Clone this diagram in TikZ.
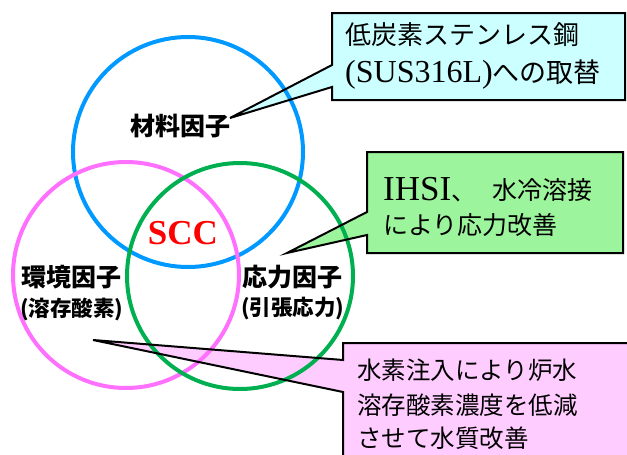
\documentclass[tikz,border=0pt]{standalone}
\usepackage{fontspec}
\setmainfont{Liberation Serif}
\newfontfamily\jp{Noto Sans CJK JP}
\definecolor{cblue}{HTML}{0099FF}
\definecolor{cpink}{HTML}{FF70FF}
\definecolor{cgreen}{HTML}{00B050}
\definecolor{fcyan}{HTML}{CCFFFF}
\definecolor{fgreen}{HTML}{9CF49C}
\definecolor{fpink}{HTML}{FFCCFF}
\tikzset{
  ring/.style={line width=4pt},
  calloutline/.style={draw=black,line width=2pt,line join=miter},
  lbl/.style={inner sep=0pt,anchor=west,font=\jp\bfseries\fontsize{25}{25}\selectfont},
  sublbl/.style={inner sep=0pt,anchor=west,font=\jp\bfseries\fontsize{21.5}{21.5}\selectfont},
  ctext/.style={inner sep=0pt,anchor=west,font=\jp\fontsize{25}{25}\selectfont},
}
\begin{document}
\begin{tikzpicture}[x=1pt,y=-1pt]
\useasboundingbox (0,0) rectangle (627,455);
% callout geometry
\coordinate (ct) at (230,118);
\coordinate (c1) at (332,13);
\coordinate (c2) at (625,100);
\coordinate (gt) at (287,253);
\coordinate (g1) at (367,152);
\coordinate (g2) at (623,253);
\coordinate (pt) at (93,340);
\coordinate (p1) at (343,343);
\coordinate (p2) at (640,470);
% fills
\fill[fcyan] (c1) -- (625,13) -- (c2) -- (332,100) -- (332,87) -- (ct) -- (332,65) -- cycle;
\fill[fgreen] (g1) -- (623,152) -- (g2) -- (367,253) -- (367,235) -- (gt) -- (367,212) -- cycle;
\fill[fpink] (p1) -- (640,343) -- (p2) -- (343,470) -- (343,392) -- (pt) -- (343,360) -- cycle;
% circles
\node[draw=cblue,ring,circle,minimum size=230pt,inner sep=0pt] (mat) at (188,152) {};
\node[draw=cpink,ring,circle,minimum size=226pt,inner sep=0pt] (env) at (126,275) {};
\node[draw=cgreen,ring,circle,minimum size=226pt,inner sep=0pt] (str) at (240,276) {};
% outlines
\draw[calloutline] (c1) -- (625,13) -- (c2) -- (332,100) -- (332,87) -- (ct) -- (332,65) -- cycle;
\draw[calloutline] (g1) -- (623,152) -- (g2) -- (367,253) -- (367,235) -- (gt) -- (367,212) -- cycle;
\draw[calloutline] (p1) -- (640,343) -- (p2) -- (343,470) -- (343,392) -- (pt) -- (343,360) -- cycle;
% labels
\node[lbl] (lmat) at (130,126) {材料因子};
\node[inner sep=0pt,text=red,font=\bfseries\fontsize{35}{35}\selectfont] (scc) at (183,233) {SCC};
\node[lbl] (lenv) at (21,277) {環境因子};
\node[sublbl] (senv) at (20,309) {(溶存酸素)};
\node[lbl] (lstr) at (242,277) {応力因子};
\node[sublbl] (sstr) at (241,309) {(引張応力)};
% callout texts
\node[ctext,font=\jp\fontsize{26}{26}\selectfont] (t1a) at (345,35) {低炭素ステンレス鋼};
\node[ctext] (t1b) at (345,75) {{\rmfamily\fontsize{32}{32}\selectfont (SUS316L)}{\jp\fontsize{27}{27}\selectfont への取替}};
\node[ctext] (t2a) at (383,190) {{\rmfamily\fontsize{35}{35}\selectfont IHSI}、};
\node[ctext] (t2b) at (492,190) {水冷溶接};
\node[ctext] (t2c) at (383,225) {により応力改善};
\node[ctext,font=\jp\fontsize{24.5}{24.5}\selectfont] (t3a) at (357,370) {水素注入により炉水};
\node[ctext,font=\jp\fontsize{24.5}{24.5}\selectfont] (t3b) at (357,405) {溶存酸素濃度を低減};
\node[ctext,font=\jp\fontsize{24.5}{24.5}\selectfont] (t3c) at (357,438) {させて水質改善};
\end{tikzpicture}
\end{document}
